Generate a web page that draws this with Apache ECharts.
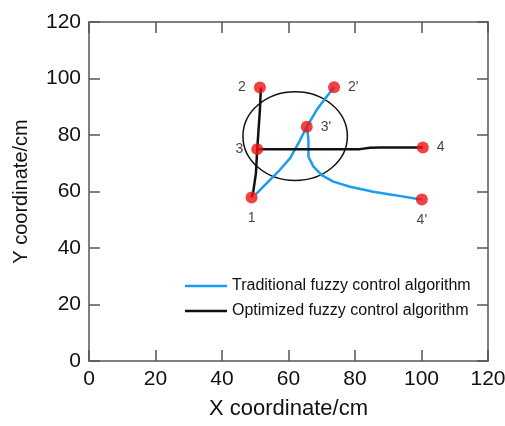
<!DOCTYPE html>
<html>
<head>
<meta charset="utf-8">
<script src="https://cdn.jsdelivr.net/npm/echarts@6/dist/echarts.min.js"></script>
<style>
  html, body { margin: 0; padding: 0; background: #fff; }
  #chart { width: 505px; height: 426px; }
</style>
</head>
<body>
<div id="chart"></div>
<script>
// marked points [x, y]
var pointNames = ['1', '2', '3', '4', "2'", "3'", "4'"]
var pointValues = [
  [48.9, 57.9], [51.4, 96.8], [50.6, 75.0], [100.4, 75.6],
  [73.7, 96.9], [65.5, 82.9], [100.1, 57.2]
]
var labelPos = ['bottom', 'left', 'left', 'right', 'right', 'right', 'bottom']

// optimized path (black)
var optUp = [[48.9, 57.9], [49.4, 59.9], [50.2, 66.4], [50.6, 75.0], [51.4, 88.9], [51.7, 96.8]]
var optRight = [[50.6, 75.0], [81.5, 75.0], [84.5, 75.5], [87.5, 75.6], [100.4, 75.6]]

// traditional path (blue)
var tradUp = [[50.2, 59.1], [53.4, 62.9], [56.9, 67.0], [60.5, 71.8], [63.0, 77.1],
  [65.5, 82.9], [68.5, 88.9], [71.5, 93.6], [73.7, 96.9]]
var tradDown = [[65.5, 82.9], [65.7, 81.8], [66.0, 78.2], [66.0, 72.3], [67.5, 68.8],
  [70.0, 65.8], [73.5, 63.5], [78.5, 61.7], [85.5, 59.9], [91.5, 58.8], [97.5, 57.6], [100.1, 57.2]]

// circle: center x, center y, radius
var circle = [[62, 79.6, 15.7]]

var xTicks = [0, 20, 40, 60, 80, 100, 120]
var yTicks = [0, 20, 40, 60, 80, 100, 120]

var blue = '#1a9cf0'
var black = '#111'
var axisColor = '#555'
var font = 'Liberation Sans, Arial, sans-serif'

function mainAxis(ticks, name, gap, nameSize) {
  return {
    type: 'value', min: ticks[0], max: ticks[ticks.length - 1], interval: ticks[1] - ticks[0],
    name: name, nameLocation: 'middle', nameGap: gap,
    nameTextStyle: { fontSize: nameSize, color: '#111', fontFamily: font },
    axisLine: { show: true, onZero: false, lineStyle: { color: axisColor, width: 1.5 } },
    axisTick: { show: true, inside: true, length: 11, lineStyle: { color: axisColor, width: 1.5 } },
    axisLabel: { fontSize: 21, color: '#111', fontFamily: font, margin: 8 },
    splitLine: { show: false }
  }
}
function mirrorAxis(ticks, pos) {
  return {
    type: 'value', position: pos, min: ticks[0], max: ticks[ticks.length - 1], interval: ticks[1] - ticks[0],
    axisLine: { show: true, onZero: false, lineStyle: { color: axisColor, width: 1.5 } },
    axisTick: { show: true, inside: true, length: 11, lineStyle: { color: axisColor, width: 1.5 } },
    axisLabel: { show: false },
    splitLine: { show: false }
  }
}

var chart = echarts.init(document.getElementById('chart'))
var xMain = mainAxis(xTicks, 'X coordinate/cm', 37, 22)
xMain.position = 'bottom'
var yMain = mainAxis(yTicks, 'Y coordinate/cm', 58, 20)
yMain.position = 'left'

var scatterData = pointValues.map(function (p, i) {
  return { value: p, label: { position: labelPos[i] } }
})

chart.setOption({
  animation: false,
  grid: { left: 89, right: 17, top: 22, bottom: 65, outerBoundsMode: 'none' },
  legend: {
    orient: 'vertical', left: 180, top: 273, itemGap: 9,
    icon: 'rect', itemWidth: 42, itemHeight: 2.5,
    textStyle: { fontSize: 16, color: '#111', fontFamily: font },
    data: ['Traditional fuzzy control algorithm', 'Optimized fuzzy control algorithm']
  },
  xAxis: [xMain, mirrorAxis(xTicks, 'top')],
  yAxis: [yMain, mirrorAxis(yTicks, 'right')],
  series: [
    {
      type: 'custom', data: circle, silent: true, z: 1,
      renderItem: function (params, api) {
        var c = api.coord([api.value(0), api.value(1)])
        var s = api.size([api.value(2), api.value(2)])
        return {
          type: 'ellipse',
          shape: { cx: c[0], cy: c[1], rx: s[0], ry: s[1] },
          style: { fill: null, stroke: '#111', lineWidth: 1.5 }
        }
      }
    },
    { name: 'Traditional fuzzy control algorithm', type: 'line', data: tradUp, symbol: 'none',
      lineStyle: { color: blue, width: 2.5 }, itemStyle: { color: blue }, z: 2 },
    { name: 'Traditional fuzzy control algorithm', type: 'line', data: tradDown, symbol: 'none',
      lineStyle: { color: blue, width: 2.5 }, itemStyle: { color: blue }, z: 2 },
    { name: 'Optimized fuzzy control algorithm', type: 'line', data: optUp, symbol: 'none',
      lineStyle: { color: black, width: 2.5 }, itemStyle: { color: black }, z: 3 },
    { name: 'Optimized fuzzy control algorithm', type: 'line', data: optRight, symbol: 'none',
      lineStyle: { color: black, width: 2.5 }, itemStyle: { color: black }, z: 3 },
    {
      type: 'scatter', data: scatterData, symbolSize: 12, z: 4,
      itemStyle: { color: '#ee1111' },
      label: {
        show: true, distance: 8, fontSize: 14, color: '#111', fontFamily: font,
        formatter: function (p) { return pointNames[p.dataIndex] }
      }
    }
  ]
})
</script>
</body>
</html>
